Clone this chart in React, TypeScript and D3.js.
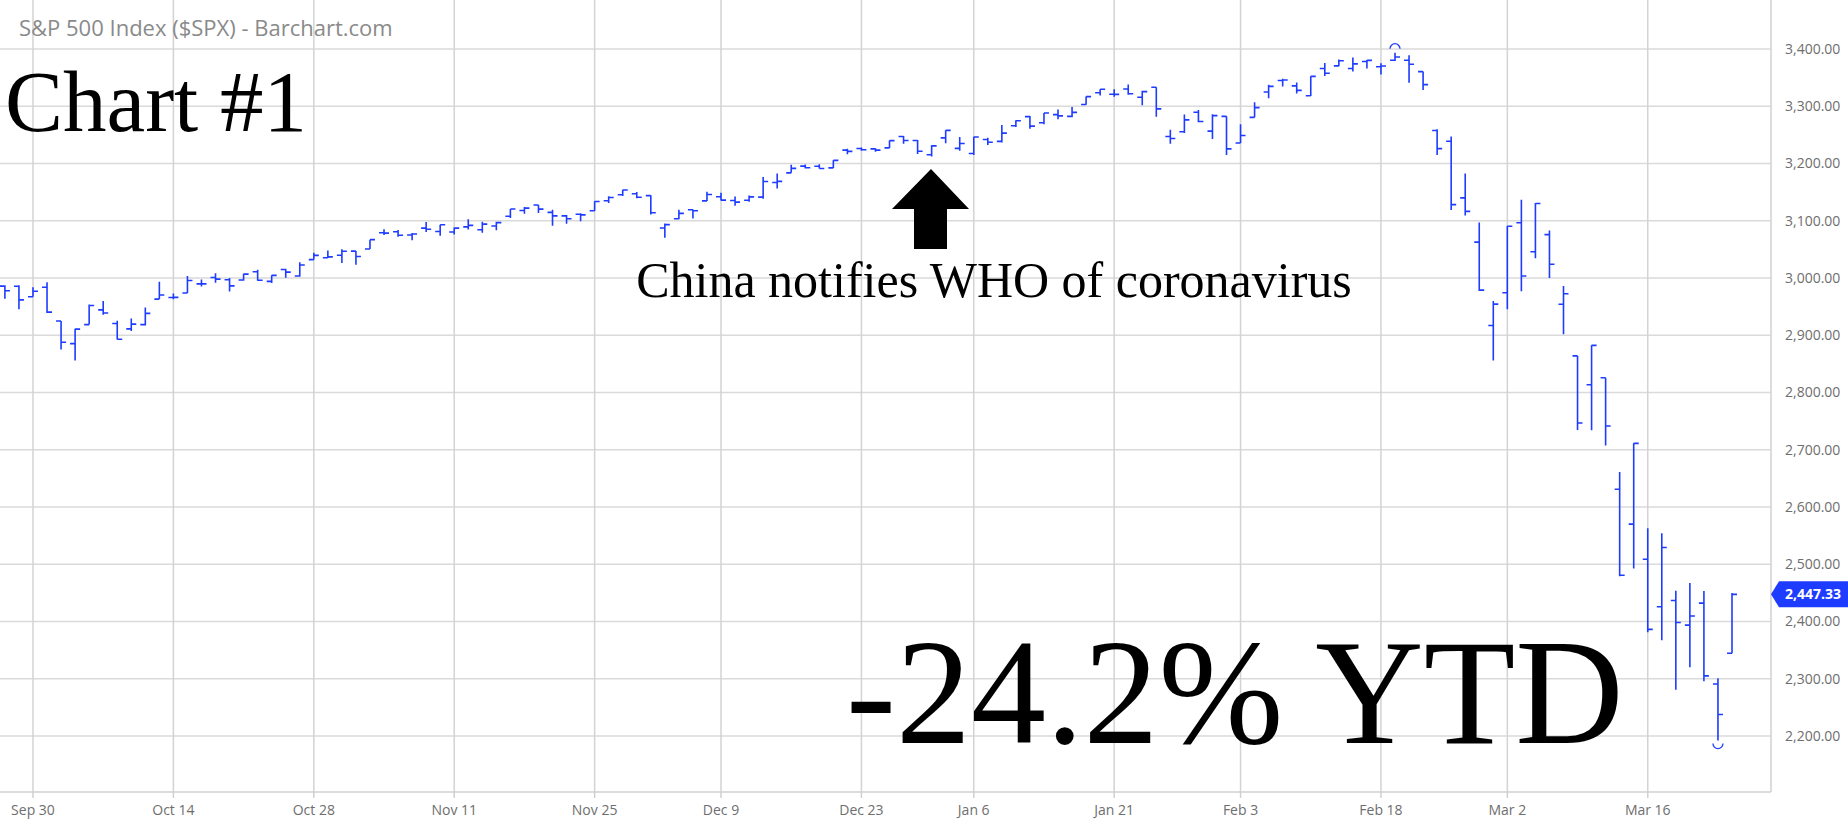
import React, { useEffect } from 'react';
import * as d3 from 'd3';

// S&P 500 daily bars, Sep 26 2019 – Mar 24 2020
const DATES = [
  '2019-09-26', '2019-09-27', '2019-09-30',
  '2019-10-01', '2019-10-02', '2019-10-03', '2019-10-04', '2019-10-07', '2019-10-08', '2019-10-09', '2019-10-10', '2019-10-11',
  '2019-10-14', '2019-10-15', '2019-10-16', '2019-10-17', '2019-10-18', '2019-10-21', '2019-10-22', '2019-10-23', '2019-10-24',
  '2019-10-25', '2019-10-28', '2019-10-29', '2019-10-30', '2019-10-31',
  '2019-11-01', '2019-11-04', '2019-11-05', '2019-11-06', '2019-11-07', '2019-11-08', '2019-11-11', '2019-11-12', '2019-11-13',
  '2019-11-14', '2019-11-15', '2019-11-18', '2019-11-19', '2019-11-20', '2019-11-21', '2019-11-22', '2019-11-25', '2019-11-26',
  '2019-11-27', '2019-11-29',
  '2019-12-02', '2019-12-03', '2019-12-04', '2019-12-05', '2019-12-06', '2019-12-09', '2019-12-10', '2019-12-11', '2019-12-12',
  '2019-12-13', '2019-12-16', '2019-12-17', '2019-12-18', '2019-12-19', '2019-12-20', '2019-12-23', '2019-12-24', '2019-12-26',
  '2019-12-27', '2019-12-30', '2019-12-31',
  '2020-01-02', '2020-01-03', '2020-01-06', '2020-01-07', '2020-01-08', '2020-01-09', '2020-01-10', '2020-01-13', '2020-01-14',
  '2020-01-15', '2020-01-16', '2020-01-17', '2020-01-21', '2020-01-22', '2020-01-23', '2020-01-24', '2020-01-27', '2020-01-28',
  '2020-01-29', '2020-01-30', '2020-01-31',
  '2020-02-03', '2020-02-04', '2020-02-05', '2020-02-06', '2020-02-07', '2020-02-10', '2020-02-11', '2020-02-12', '2020-02-13',
  '2020-02-14', '2020-02-18', '2020-02-19', '2020-02-20', '2020-02-21', '2020-02-24', '2020-02-25', '2020-02-26', '2020-02-27',
  '2020-02-28',
  '2020-03-02', '2020-03-03', '2020-03-04', '2020-03-05', '2020-03-06', '2020-03-09', '2020-03-10', '2020-03-11', '2020-03-12',
  '2020-03-13', '2020-03-16', '2020-03-17', '2020-03-18', '2020-03-19', '2020-03-20', '2020-03-23', '2020-03-24',
];

const OPEN = [
  2985.73, 2985.47, 2967.07,
  2983.69, 2924.78, 2885.38, 2918.56, 2944.23, 2920.40, 2911.10, 2918.55, 2963.07,
  2965.81, 2973.61, 2989.68, 3000.77, 2996.84, 2996.48, 3010.73, 2994.01, 3014.78,
  3003.32, 3032.12, 3035.39, 3039.74, 3046.90,
  3050.72, 3078.96, 3080.80, 3075.10, 3087.02, 3081.25, 3080.33, 3089.28, 3084.18,
  3090.75, 3107.92, 3117.91, 3127.45, 3114.66, 3108.49, 3111.41, 3117.44, 3134.85,
  3145.49, 3147.18,
  3143.85, 3087.41, 3103.50, 3119.21, 3134.62, 3141.86, 3135.36, 3135.75, 3141.23,
  3166.65, 3183.63, 3195.40, 3195.21, 3192.32, 3223.33, 3226.05, 3225.45, 3227.20,
  3247.23, 3240.09, 3215.18,
  3244.67, 3226.36, 3217.55, 3241.86, 3238.59, 3266.03, 3281.81, 3271.13, 3285.35,
  3282.27, 3302.97, 3323.66, 3321.03, 3330.02, 3315.77, 3333.10, 3247.16, 3255.35,
  3289.46, 3256.45, 3282.33,
  3235.66, 3280.61, 3324.91, 3344.92, 3335.54, 3318.28, 3365.87, 3370.50, 3365.90,
  3378.08, 3369.04, 3380.39, 3380.45, 3360.50, 3257.61, 3238.94, 3139.90, 3062.54,
  2916.90,
  2974.28, 3096.46, 3045.75, 3075.70, 2954.20, 2863.89, 2813.48, 2825.60, 2630.86,
  2569.99, 2508.59, 2425.66, 2436.50, 2393.48, 2431.94, 2290.71, 2344.44,
];

const HIGH = [
  2987.28, 2987.31, 2983.85,
  2992.53, 2924.78, 2911.13, 2953.74, 2959.75, 2925.47, 2929.32, 2948.46, 2993.28,
  2972.84, 3003.28, 2997.54, 3008.29, 3000.00, 3007.33, 3014.57, 3004.78, 3016.07,
  3027.39, 3044.08, 3047.87, 3050.10, 3046.90,
  3066.95, 3085.20, 3083.95, 3078.34, 3097.77, 3093.09, 3088.33, 3102.61, 3098.06,
  3098.20, 3120.46, 3124.17, 3127.64, 3118.97, 3110.11, 3112.87, 3133.83, 3142.69,
  3154.26, 3150.30,
  3144.31, 3094.97, 3119.38, 3119.45, 3150.60, 3148.87, 3142.12, 3143.98, 3176.28,
  3182.68, 3197.71, 3198.22, 3198.48, 3205.48, 3225.65, 3227.78, 3226.43, 3240.08,
  3247.93, 3240.92, 3231.72,
  3258.14, 3246.15, 3246.84, 3244.91, 3267.07, 3275.58, 3282.99, 3288.13, 3294.25,
  3298.66, 3317.11, 3329.88, 3329.79, 3337.77, 3326.88, 3333.18, 3258.85, 3285.78,
  3293.47, 3285.91, 3282.33,
  3268.44, 3306.92, 3337.58, 3347.96, 3341.42, 3352.26, 3375.63, 3381.47, 3385.09,
  3380.69, 3375.01, 3393.52, 3389.15, 3360.76, 3259.81, 3246.99, 3182.51, 3097.07,
  2959.72,
  3090.96, 3136.72, 3130.97, 3083.04, 2985.93, 2863.89, 2882.59, 2825.60, 2660.95,
  2711.33, 2562.98, 2553.93, 2453.57, 2466.97, 2453.01, 2300.73, 2449.71,
];

const LOW = [
  2963.71, 2945.53, 2967.07,
  2938.70, 2874.93, 2855.94, 2918.56, 2935.68, 2892.66, 2907.41, 2917.12, 2963.07,
  2962.94, 2973.61, 2985.20, 2991.79, 2976.31, 2995.35, 2995.04, 2991.21, 3000.42,
  3001.94, 3032.12, 3034.81, 3025.96, 3023.19,
  3050.72, 3074.87, 3072.15, 3065.89, 3080.23, 3073.58, 3075.82, 3084.73, 3078.80,
  3083.26, 3104.60, 3112.06, 3113.47, 3091.41, 3094.55, 3099.26, 3117.44, 3131.00,
  3143.41, 3139.34,
  3110.78, 3070.33, 3102.53, 3103.76, 3134.62, 3135.46, 3126.09, 3133.21, 3138.47,
  3156.51, 3183.63, 3191.03, 3191.14, 3192.32, 3216.03, 3222.30, 3220.51, 3227.20,
  3234.37, 3216.57, 3212.03,
  3235.53, 3222.34, 3214.64, 3232.43, 3236.67, 3263.67, 3260.86, 3268.43, 3277.19,
  3280.69, 3302.82, 3318.86, 3316.61, 3320.04, 3301.87, 3281.53, 3234.50, 3253.22,
  3271.89, 3242.80, 3214.68,
  3235.66, 3280.61, 3313.75, 3334.39, 3322.12, 3317.77, 3352.72, 3369.72, 3360.52,
  3366.15, 3355.61, 3378.83, 3341.02, 3328.45, 3214.65, 3118.77, 3108.99, 2977.39,
  2855.84,
  2945.19, 2976.63, 3034.38, 2999.83, 2901.54, 2734.43, 2734.00, 2707.22, 2478.86,
  2492.37, 2380.94, 2367.04, 2280.52, 2319.78, 2295.56, 2191.86, 2344.44,
];

const CLOSE = [
  2977.62, 2961.79, 2976.74,
  2940.25, 2887.61, 2910.63, 2952.01, 2938.79, 2893.06, 2919.40, 2938.13, 2970.27,
  2966.15, 2995.68, 2989.69, 2997.95, 2986.20, 3006.72, 2995.99, 3004.52, 3010.29,
  3022.55, 3039.42, 3036.89, 3046.77, 3037.56,
  3066.91, 3078.27, 3074.62, 3076.78, 3085.18, 3093.08, 3087.01, 3091.84, 3094.04,
  3096.63, 3120.46, 3122.03, 3120.18, 3108.46, 3103.54, 3110.29, 3133.64, 3140.52,
  3153.63, 3140.98,
  3113.87, 3093.20, 3112.76, 3117.43, 3145.91, 3135.96, 3132.52, 3141.63, 3168.57,
  3168.80, 3191.45, 3192.52, 3191.14, 3205.37, 3221.22, 3224.01, 3223.38, 3239.91,
  3240.02, 3221.29, 3230.78,
  3257.85, 3234.85, 3246.28, 3237.18, 3253.05, 3274.70, 3265.35, 3288.13, 3283.15,
  3289.29, 3316.81, 3329.62, 3320.79, 3321.75, 3325.54, 3295.47, 3243.63, 3276.24,
  3273.40, 3283.66, 3225.52,
  3248.92, 3297.59, 3334.69, 3345.78, 3327.71, 3352.09, 3357.75, 3379.45, 3373.94,
  3380.16, 3370.29, 3386.15, 3373.23, 3337.75, 3225.89, 3128.21, 3116.39, 2978.76,
  2954.22,
  3090.23, 3003.37, 3130.12, 3023.94, 2972.37, 2746.56, 2882.23, 2741.38, 2480.64,
  2711.02, 2386.13, 2529.19, 2398.10, 2409.39, 2304.92, 2237.40, 2447.33,
];

const X_TICKS = [
  '2019-09-30', '2019-10-14', '2019-10-28', '2019-11-11', '2019-11-25', '2019-12-09', '2019-12-23',
  '2020-01-06', '2020-01-21', '2020-02-03', '2020-02-18', '2020-03-02', '2020-03-16',
];
const Y_TICKS = [2200, 2300, 2400, 2500, 2600, 2700, 2800, 2900, 3000, 3100, 3200, 3300, 3400];

const TITLE = 'S&P 500 Index ($SPX) - Barchart.com';
const LAST_PRICE = 2447.33;

const W = 1848;
const H = 825;
const PLOT_R = 1771;
const PLOT_B = 792;
const BLUE = '#1e3cff';
const SERIF = '"Liberation Serif", "Times New Roman", serif';
const SANS = '"Open Sans", "Noto Sans", sans-serif';

const parse = d3.timeParse('%Y-%m-%d');
const fmtDate = d3.timeFormat('%b %-d');
const fmtPrice = d3.format(',.2f');

export default function App() {
  useEffect(() => {
    document.body.style.margin = '0';
  }, []);

  const x = d3.scalePoint<string>().domain(DATES).range([4.9, 1732]);
  const y = d3.scaleLinear().domain([2102, 3485.6]).range([PLOT_B, 0]);

  const hiIdx = d3.maxIndex(HIGH);
  const loIdx = d3.minIndex(LOW);
  const tick = 5;

  const lastY = y(LAST_PRICE);

  return (
    <svg width={W} height={H} style={{ display: 'block', position: 'absolute', left: 0, top: 0, background: '#fff' }}>
      {/* grid */}
      <g>
        {Y_TICKS.map(v => (
          <line key={v} x1={0} x2={PLOT_R} y1={y(v)} y2={y(v)} stroke="#dadada" strokeWidth={1.5} />
        ))}
        {X_TICKS.map(d => (
          <line key={d} x1={x(d)} x2={x(d)} y1={0} y2={PLOT_B} stroke="#d3d3d3" strokeWidth={1.5} />
        ))}
        <line x1={PLOT_R} x2={PLOT_R} y1={0} y2={PLOT_B} stroke="#d0d0d0" strokeWidth={1.5} />
        <line x1={0} x2={PLOT_R} y1={PLOT_B} y2={PLOT_B} stroke="#d0d0d0" strokeWidth={1.5} />
      </g>

      {/* axes labels */}
      <g fontFamily={SANS} fontSize={14} fill="#6e6e6e">
        {Y_TICKS.map(v => (
          <text key={v} x={1785} y={y(v)} dy="0.35em">{fmtPrice(v)}</text>
        ))}
        {X_TICKS.map(d => (
          <g key={d}>
            <line x1={x(d)} x2={x(d)} y1={PLOT_B} y2={PLOT_B + 6} stroke="#d0d0d0" strokeWidth={1.5} />
            <text x={x(d)} y={815} textAnchor="middle">{fmtDate(parse(d)!)}</text>
          </g>
        ))}
      </g>

      {/* OHLC bars */}
      <g stroke={BLUE} strokeWidth={1.6} fill="none">
        {DATES.map((d, i) => {
          const cx = x(d)!;
          const path =
            `M${cx},${y(HIGH[i])}V${y(LOW[i])}` +
            `M${cx - tick},${y(OPEN[i])}H${cx}` +
            `M${cx},${y(CLOSE[i])}H${cx + tick}`;
          return <path key={d} d={path} />;
        })}
        {/* high / low markers */}
        <path
          d={`M${x(DATES[hiIdx])! - 5},${y(HIGH[hiIdx]) - 4} a5,5 0 0 1 10,0`}
          strokeWidth={1.3}
        />
        <path
          d={`M${x(DATES[loIdx])! - 5},${y(LOW[loIdx]) + 3} a5,5 0 0 0 10,0`}
          strokeWidth={1.3}
        />
      </g>

      {/* last price tag */}
      <g>
        <path
          d={`M${PLOT_R},${lastY} L${PLOT_R + 8},${lastY - 13} H${W} V${lastY + 13} H${PLOT_R + 8} Z`}
          fill={BLUE}
        />
        <text x={1813} y={lastY} dy="0.36em" textAnchor="middle" fill="#fff" fontFamily={SANS} fontSize={14} fontWeight={700}>
          {fmtPrice(LAST_PRICE)}
        </text>
      </g>

      {/* title */}
      <text x={19} y={36} fontFamily={SANS} fontSize={22} fill="#8a8a8a">{TITLE}</text>

      {/* annotations */}
      <text x={5} y={131} fontFamily={SERIF} fontSize={87} fill="#000">Chart #1</text>
      <path d="M931,169 L969,209 L947,209 L947,249 L914,249 L914,209 L892,209 Z" fill="#000" />
      <text x={994} y={297} textAnchor="middle" fontFamily={SERIF} fontSize={50} fill="#000">
        China notifies WHO of coronavirus
      </text>
      <text x={846} y={743} fontFamily={SERIF} fontSize={150} fill="#000">-24.2% YTD</text>
    </svg>
  );
}
